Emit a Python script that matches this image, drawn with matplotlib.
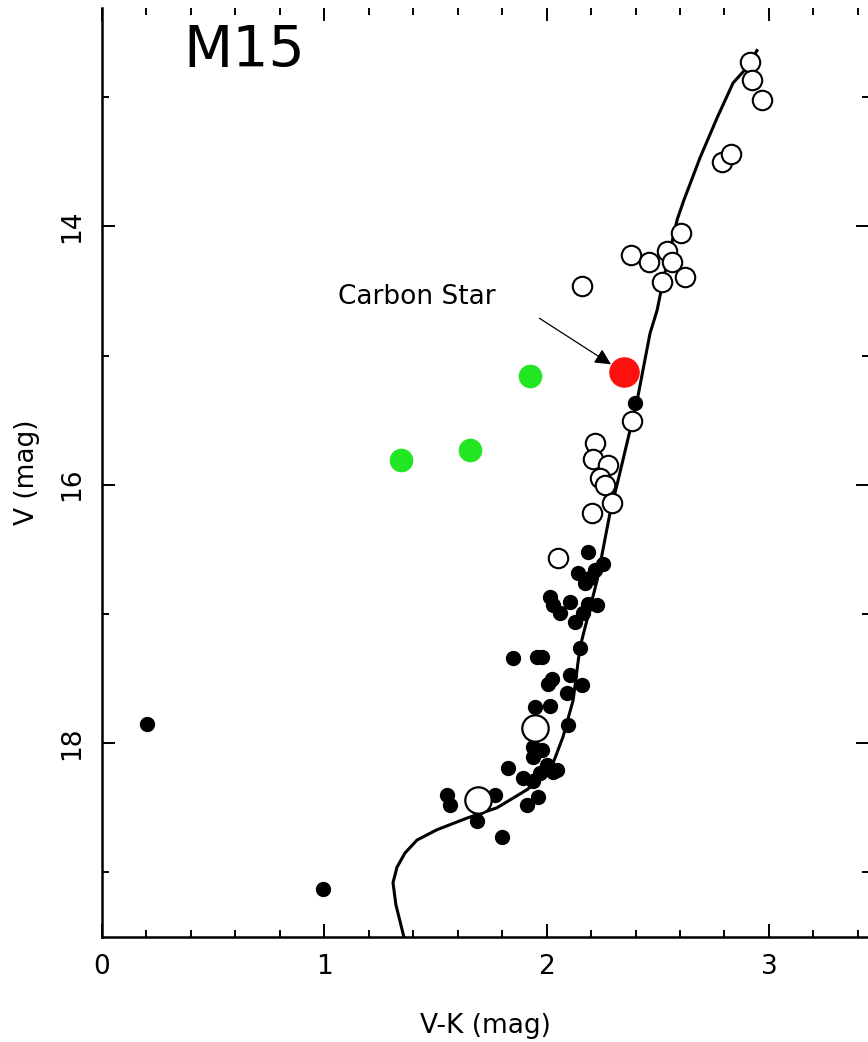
import matplotlib
matplotlib.use("Agg")
import matplotlib.pyplot as plt
from matplotlib.ticker import MultipleLocator

# open circles (V-K, V)
open_vk = [2.915, 2.924, 2.969, 2.789, 2.830, 2.605, 2.159, 2.380, 2.461, 2.542,
           2.564, 2.519, 2.622, 2.384, 2.218, 2.209, 2.276, 2.240, 2.263, 2.294,
           2.204, 2.051]
open_v = [12.73, 12.87, 13.02, 13.50, 13.44, 14.05, 14.46, 14.22, 14.28, 14.19,
          14.28, 14.43, 14.39, 15.51, 15.68, 15.80, 15.85, 15.95, 16.00, 16.14,
          16.22, 16.57]

# large open circles
big_vk = [1.948, 1.691]
big_v = [17.88, 18.44]

# filled dots
dot_vk = [0.202, 0.994, 2.398, 2.186, 2.254, 2.141, 2.195, 2.173, 2.218, 2.015,
          2.029, 2.105, 2.060, 2.186, 2.227, 2.164, 2.128, 2.150, 1.849, 1.957,
          1.979, 2.024, 2.105, 2.159, 2.092, 2.006, 1.948, 2.015, 2.096, 1.939,
          1.979, 1.939, 1.826, 2.002, 2.029, 2.047, 1.970, 1.894, 1.939, 1.961,
          1.912, 1.552, 1.565, 1.691, 1.768, 1.691, 1.687, 1.799]
dot_v = [17.85, 19.13, 15.37, 16.52, 16.61, 16.68, 16.72, 16.76, 16.66, 16.87,
         16.93, 16.91, 16.99, 16.92, 16.93, 16.99, 17.06, 17.26, 17.34, 17.33,
         17.33, 17.50, 17.47, 17.55, 17.61, 17.54, 17.72, 17.71, 17.86, 18.03,
         18.05, 18.11, 18.19, 18.17, 18.22, 18.21, 18.23, 18.27, 18.29, 18.42,
         18.48, 18.40, 18.48, 18.40, 18.40, 18.50, 18.60, 18.73]

# green stars
green_vk = [1.925, 1.655, 1.345]
green_v = [15.16, 15.73, 15.81]

# carbon star
carbon_vk = [2.348]
carbon_v = [15.13]

# isochrone
iso_vk = [1.358, 1.322, 1.309, 1.327, 1.363, 1.417, 1.507, 1.642, 1.777, 1.912,
          1.984, 2.029, 2.074, 2.119, 2.150, 2.227, 2.285, 2.321, 2.407, 2.465,
          2.497, 2.524, 2.555, 2.587, 2.617, 2.690, 2.767, 2.839, 2.902, 2.946]
iso_v = [19.50, 19.25, 19.08, 18.96, 18.85, 18.75, 18.67, 18.58, 18.50, 18.36,
         18.26, 18.155, 17.95, 17.67, 17.26, 16.74, 16.22, 15.97, 15.35, 14.83,
         14.65, 14.42, 14.19, 13.95, 13.80, 13.47, 13.16, 12.89, 12.77, 12.64]

fig = plt.figure(figsize=(8.68, 10.42), dpi=100)
ax = fig.add_axes([0.1175, 0.1008, 0.8836, 0.8916])

ax.plot(iso_vk, iso_v, color="black", lw=2.2, zorder=2)
ax.plot(dot_vk, dot_v, "o", color="black", ms=10, zorder=3)
ax.plot(open_vk, open_v, "o", mfc="white", mec="black", mew=1.5, ms=14, zorder=4)
ax.plot(big_vk, big_v, "o", mfc="white", mec="black", mew=1.6, ms=19, zorder=4)
ax.plot(green_vk, green_v, "o", color="#22e622", ms=16, zorder=5)
ax.plot(carbon_vk, carbon_v, "o", color="#ff1010", ms=21, zorder=5)

ax.annotate("", xy=(2.30, 15.08), xytext=(1.957, 14.70),
            arrowprops=dict(arrowstyle="-|>", color="black", lw=0.9,
                            mutation_scale=24))
ax.text(1.062, 14.55, "Carbon Star", fontsize=19, ha="left", va="center")
ax.text(0.364, 12.65, "M15", fontsize=41, ha="left", va="center")

ax.set_xlim(0, 3.45)
ax.set_ylim(19.5, 12.31)

ax.xaxis.set_major_locator(MultipleLocator(1))
ax.xaxis.set_minor_locator(MultipleLocator(0.2))
ax.yaxis.set_major_locator(MultipleLocator(2))
ax.yaxis.set_minor_locator(MultipleLocator(1))

ax.tick_params(which="both", direction="in", top=True, right=True, width=1.4)
ax.tick_params(which="major", length=9.5, labelsize=19, pad=12)
ax.tick_params(which="minor", length=5)
for lab in ax.get_yticklabels():
    lab.set_rotation(90)
    lab.set_va("center")

for s in ["top", "right"]:
    ax.spines[s].set_visible(False)
for s in ["left", "bottom"]:
    ax.spines[s].set_linewidth(1.8)

ax.set_xlabel("V-K (mag)", fontsize=19, labelpad=24)
ax.set_ylabel("V (mag)", fontsize=19, labelpad=14)

fig.savefig("out.png", dpi=100)
